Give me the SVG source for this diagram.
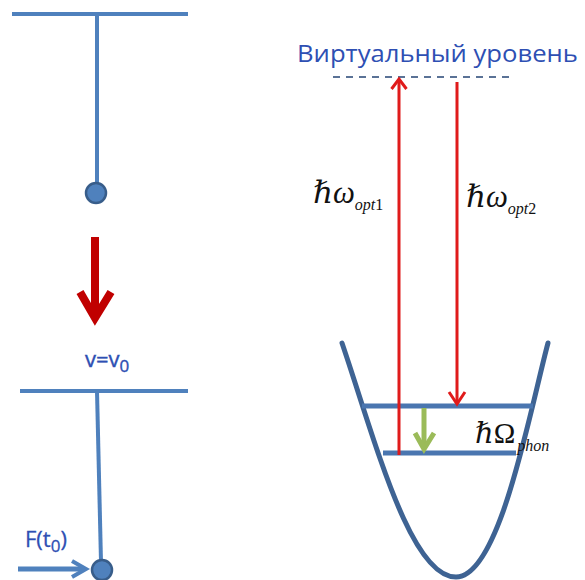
<svg xmlns="http://www.w3.org/2000/svg" width="585" height="580" viewBox="0 0 585 580">
<style>
.rod{stroke:#4F81BD;stroke-width:4;fill:none;stroke-linecap:butt}
.ball{fill:#4F81BD;stroke:#385D8A;stroke-width:2.5}
.lvl{stroke:#4A76B0;stroke-width:5;fill:none}
.well{stroke:#3E6393;stroke-width:5;fill:none;stroke-linecap:round}
.red{stroke:#E01B1B;stroke-width:3;fill:none}
.lbl{font-family:"Open Sans","Liberation Sans",sans-serif;fill:#2E4FB3}
.math{font-family:"Liberation Serif","DejaVu Serif",serif;font-style:italic;fill:#111}
</style>
<rect width="585" height="580" fill="#fff"/>

<g id="pendulum-top">
  <line class="rod" x1="12" y1="14" x2="188" y2="14"/>
  <line class="rod" x1="97" y1="14" x2="97" y2="186"/>
  <circle class="ball" cx="96" cy="193" r="10"/>
</g>

<g id="big-arrow">
  <line x1="95" y1="237" x2="95" y2="314" stroke="#C00000" stroke-width="8"/>
  <polyline points="80,292 95,318 111,292" fill="none" stroke="#C00000" stroke-width="8" stroke-linejoin="miter"/>
</g>

<g id="label-v">
  <text class="lbl" x="85" y="367" font-size="22" stroke="#2E4FB3" stroke-width="0.4">v=v<tspan font-size="17" dy="5">0</tspan></text>
</g>

<g id="pendulum-bottom">
  <line class="rod" x1="20" y1="391" x2="188" y2="391"/>
  <line class="rod" x1="97" y1="391" x2="101" y2="562"/>
  <circle class="ball" cx="102" cy="570" r="10"/>
</g>

<g id="force">
  <text class="lbl" x="25" y="547" font-size="22" stroke="#2E4FB3" stroke-width="0.3">F(t<tspan font-size="17" dy="5">0</tspan><tspan dy="-5">)</tspan></text>
  <line x1="18" y1="569" x2="84" y2="569" stroke="#4F81BD" stroke-width="5"/>
  <polyline points="72,561 86,569 72,577" fill="none" stroke="#4F81BD" stroke-width="4"/>
</g>

<g id="virtual-level">
  <text class="lbl" x="297" y="62" font-size="23" textLength="281" lengthAdjust="spacingAndGlyphs" fill="#2E45B8">Виртуальный уровень</text>
  <line x1="333" y1="77" x2="510" y2="77" stroke="#5A7296" stroke-width="2" stroke-dasharray="7,6"/>
</g>

<g id="well">
  <path class="well" d="M342,343 C375,440 410,577 456,577 C500,577 530,410 548,343"/>
  <line class="lvl" x1="362" y1="406" x2="533" y2="406"/>
  <line class="lvl" x1="383" y1="453" x2="516" y2="453"/>
</g>

<g id="connectors">
  <line class="red" x1="399" y1="455" x2="399" y2="80"/>
  <polyline class="red" points="391.5,89 399,79 406.5,89" stroke-width="3.5"/>
  <line class="red" x1="457" y1="82" x2="457" y2="403"/>
  <polyline class="red" points="449,392 457,404 465,392" stroke-width="3.5"/>
  <line x1="424" y1="408" x2="424" y2="448" stroke="#9BBB59" stroke-width="5"/>
  <polyline points="415,433 424,449 434,433" fill="none" stroke="#9BBB59" stroke-width="5"/>
</g>

<g id="labels-math">
  <text class="math" x="313" y="203" font-size="31">ℏω<tspan font-size="16" dy="7">opt</tspan><tspan font-size="16" font-style="normal">1</tspan></text>
  <text class="math" x="466" y="207" font-size="31">ℏω<tspan font-size="16" dy="7">opt</tspan><tspan font-size="16" font-style="normal">2</tspan></text>
  <text class="math" x="475" y="443" font-size="29">ℏ<tspan font-style="normal">Ω</tspan><tspan font-size="16" dy="8" dx="2">phon</tspan></text>
</g>
</svg>
